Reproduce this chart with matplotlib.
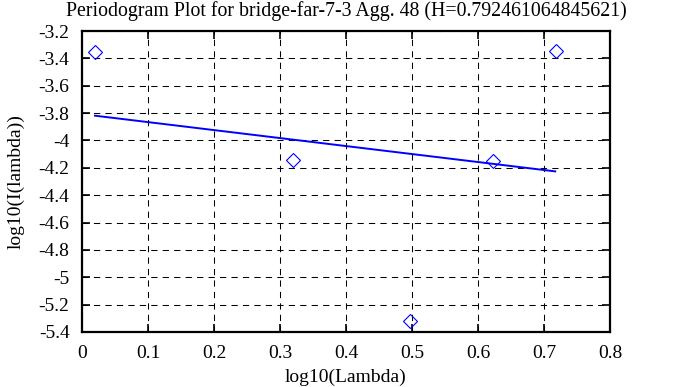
import numpy as np
import matplotlib
matplotlib.use("Agg")
import matplotlib.pyplot as plt

plt.rcParams["font.family"] = ["Liberation Serif", "DejaVu Serif"]

# periodogram points
log_lambda = [0.0197, 0.320, 0.497, 0.622, 0.718]
log_I = [-3.355, -4.145, -5.318, -4.148, -3.349]

# fitted line ends
fit_x = [0.0197, 0.717]
fit_y = [-3.819, -4.226]

title = "Periodogram Plot for bridge-far-7-3 Agg. 48 (H=0.792461064845621)"

fig = plt.figure(figsize=(6.78, 3.87), dpi=100)
ax = fig.add_axes([82 / 678, 1 - 332 / 387, 528 / 678, 301 / 387])

ax.plot(log_lambda, log_I, linestyle="none", marker="D", markersize=7.5,
        markerfacecolor="none", markeredgecolor="blue", markeredgewidth=0.8)
ax.plot(fit_x, fit_y, color="blue", linewidth=1.4)

ax.set_xlim(0, 0.8)
ax.set_ylim(-5.4, -3.2)
ax.set_xticks(np.arange(0, 0.81, 0.1))
ax.set_yticks(np.arange(-5.4, -3.19, 0.2))
ax.set_xticklabels(["0", "0.1", "0.2", "0.3", "0.4", "0.5", "0.6", "0.7", "0.8"])
ax.set_yticklabels(["-5.4", "-5.2", "-5", "-4.8", "-4.6", "-4.4", "-4.2", "-4",
                    "-3.8", "-3.6", "-3.4", "-3.2"])
ax.grid(True, color="black", linestyle=(0, (6, 5)), linewidth=0.75)
ax.tick_params(direction="in", top=True, right=True, length=6, width=1.2,
               labelsize=14)
ax.tick_params(axis="x", pad=9)
ax.tick_params(axis="y", pad=9)
for sp in ax.spines.values():
    sp.set_linewidth(1.6)

ax.set_xlabel("log10(Lambda)", fontsize=14, labelpad=5)
ax.set_ylabel("log10(I(lambda))", fontsize=14, labelpad=10)
ax.set_title(title, fontsize=14.3, pad=11)

fig.savefig("out.png", dpi=100)
